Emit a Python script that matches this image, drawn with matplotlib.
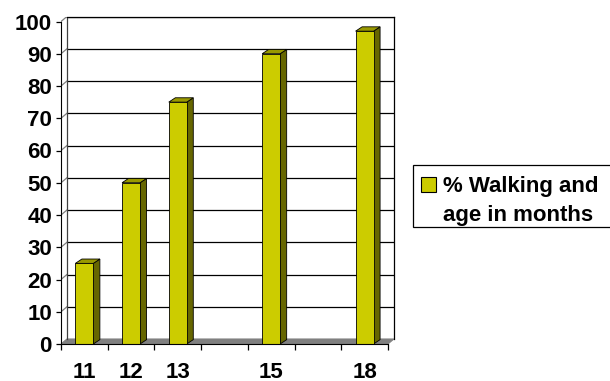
import matplotlib

matplotlib.use('Agg')
import matplotlib.pyplot as plt
from matplotlib.patches import Rectangle, Polygon

plt.rcParams['font.family'] = ['Liberation Sans', 'DejaVu Sans']
plt.rcParams['font.weight'] = 'bold'

# data (blank slots in the category axis have no bar)
months = ['11', '12', '13', '', '15', '', '18']
pct_walking = [25, 50, 75, None, 90, None, 97]
series_lines = ['% Walking and', 'age in months']

front_col = '#CCCC00'
top_col = '#999900'
side_col = '#666600'

W, H = 610, 381
fig = plt.figure(figsize=(W / 100, H / 100), dpi=100)

n = len(months)
wall_dx, wall_dy = 0.128, 1.55   # depth of the 3d walls
bar_dx, bar_dy = 0.14, 1.35      # depth of each column
bar_w = 0.385

# axes placed so the front plane runs 61..388 px and 0..100 maps 344..21 px
left_px, base_px = 61, 344
slot_px, unit_px = 46.7, 3.225
ax = fig.add_axes([left_px / W, (H - base_px) / H,
                   (n + wall_dx) * slot_px / W, (100 + wall_dy) * unit_px / H])
ax.set_xlim(0, n + wall_dx)
ax.set_ylim(0, 100 + wall_dy)
ax.patch.set_visible(False)

# floor
ax.add_patch(Polygon([(0, 0), (n, 0), (n + wall_dx, wall_dy), (wall_dx, wall_dy)],
                     closed=True, fc='#808080', ec='#808080', lw=0.8, zorder=1))

# gridlines on back wall + side wall
for v in range(10, 101, 10):
    ax.plot([wall_dx, n + wall_dx], [v + wall_dy, v + wall_dy], color='black', lw=0.9, zorder=1)
    ax.plot([0, wall_dx], [v, v + wall_dy], color='#808080', lw=0.9, zorder=1)
ax.plot([wall_dx, wall_dx], [wall_dy, 100 + wall_dy], color='#404040', lw=0.9, zorder=1)
ax.plot([n + wall_dx, n + wall_dx], [wall_dy, 100 + wall_dy], color='black', lw=0.9, zorder=1,
        clip_on=False)
ax.plot([wall_dx, n + wall_dx], [100 + wall_dy, 100 + wall_dy], color='black', lw=0.9, zorder=1,
        clip_on=False)

# columns
for i, v in enumerate(pct_walking):
    if v is None:
        continue
    x0 = i + 0.5 - bar_w / 2
    x1 = x0 + bar_w
    ax.add_patch(Polygon([(x1, 0), (x1 + bar_dx, bar_dy), (x1 + bar_dx, v + bar_dy), (x1, v)],
                         closed=True, fc=side_col, ec='black', lw=0.6, zorder=3))
    ax.add_patch(Polygon([(x0, v), (x1, v), (x1 + bar_dx, v + bar_dy), (x0 + bar_dx, v + bar_dy)],
                         closed=True, fc=top_col, ec='black', lw=0.6, zorder=3))
    ax.add_patch(Rectangle((x0, 0), bar_w, v, fc=front_col, ec='black', lw=0.6, zorder=4))

# axes lines and ticks
for s in ['top', 'right']:
    ax.spines[s].set_visible(False)
ax.spines['left'].set_bounds(0, 100)
ax.spines['bottom'].set_bounds(0, n)
ax.spines['left'].set_zorder(5)
ax.spines['bottom'].set_zorder(5)

ax.set_yticks(range(0, 101, 10))
ax.tick_params(axis='y', direction='out', length=3.5, width=0.9, pad=3.0, labelsize=16)

ax.set_xticks([i + 0.5 for i in range(n)])
ax.set_xticklabels(months)
ax.set_xticks(range(n + 1), minor=True)
ax.tick_params(axis='x', which='major', length=0, pad=13.0, labelsize=16)
ax.tick_params(axis='x', which='minor', direction='out', length=4.5, width=0.9)

# legend box (runs off the right edge like the original)
fig.add_artist(Rectangle((413 / W, 1 - 227 / H), 200 / W, 62 / H, transform=fig.transFigure,
                         fc='white', ec='black', lw=0.9, clip_on=False))
fig.add_artist(Rectangle((421 / W, 1 - 192 / H), 15 / W, 15 / H, transform=fig.transFigure,
                         fc=front_col, ec='black', lw=0.8))
fig.text(443 / W, 1 - 192 / H, series_lines[0], fontsize=16, va='baseline', ha='left')
fig.text(443 / W, 1 - 221 / H, series_lines[1], fontsize=16, va='baseline', ha='left')

fig.savefig('out.png', dpi=100)
